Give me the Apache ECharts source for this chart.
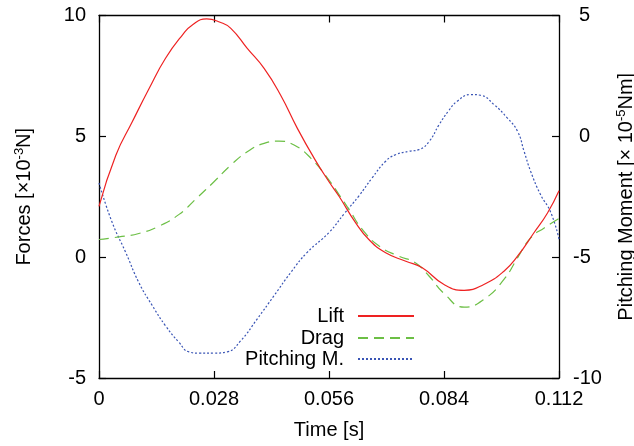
<!DOCTYPE html>
<html>
<head>
<meta charset="utf-8">
<script src="https://cdn.jsdelivr.net/npm/echarts@6/dist/echarts.min.js"></script>
<style>html,body{margin:0;padding:0;background:#fff}#c{width:634px;height:446px}</style>
</head>
<body>
<div id="c"></div>
<script>
// ---- data ----
const xTicks = [0, 0.028, 0.056, 0.084, 0.112];
const leftTicks = [-5, 0, 5, 10];
const rightTicks = [-10, -5, 0, 5];

const liftT = [0, 0.0041, 0.0081, 0.0122, 0.0162, 0.0203, 0.0228, 0.0262, 0.0295, 0.0321, 0.0361, 0.0402, 0.0442, 0.0483, 0.0524, 0.056, 0.0584, 0.0625, 0.0657, 0.0698, 0.0747, 0.0787, 0.084, 0.0889, 0.0937, 0.0986, 0.1019, 0.1059, 0.1092, 0.112];
const liftV = [2.1, 4.22, 5.6, 6.98, 8.23, 9.19, 9.62, 9.86, 9.72, 9.47, 8.64, 7.81, 6.71, 5.33, 4.09, 3.12, 2.53, 1.42, 0.73, 0.18, -0.17, -0.44, -1.13, -1.37, -1.13, -0.58, 0.04, 1.01, 1.83, 2.75];

const dragT = [0, 0.0049, 0.0097, 0.0146, 0.0195, 0.0239, 0.028, 0.0321, 0.0361, 0.0402, 0.0438, 0.0475, 0.0516, 0.056, 0.0584, 0.0609, 0.0641, 0.0682, 0.073, 0.0771, 0.0804, 0.084, 0.0889, 0.0937, 0.0986, 0.1019, 0.1051, 0.1084, 0.112];
const dragV = [0.73, 0.84, 0.98, 1.28, 1.77, 2.46, 3.12, 3.81, 4.36, 4.71, 4.80, 4.64, 4.09, 3.19, 2.6, 1.97, 1.15, 0.46, 0.04, -0.24, -0.79, -1.5, -2.07, -1.75, -0.92, -0.03, 0.80, 1.21, 1.6];

const pitchT = [0, 0.0032, 0.0065, 0.0097, 0.013, 0.0162, 0.0195, 0.0219, 0.0244, 0.028, 0.0312, 0.0345, 0.0385, 0.0426, 0.0467, 0.0507, 0.056, 0.0597, 0.0633, 0.0665, 0.0698, 0.0722, 0.0755, 0.0779, 0.0804, 0.0828, 0.0851, 0.0872, 0.0905, 0.0929, 0.0962, 0.0994, 0.1019, 0.1035, 0.1051, 0.1075, 0.11, 0.112];
const pitchV = [-1.93, -3.56, -4.80, -6.05, -7.01, -7.84, -8.53, -8.92, -8.97, -8.97, -8.92, -8.46, -7.56, -6.6, -5.63, -4.80, -3.98, -3.2, -2.46, -1.72, -1.03, -0.76, -0.62, -0.55, -0.21, 0.48, 1.05, 1.45, 1.73, 1.70, 1.31, 0.76, 0.21, -0.62, -1.45, -2.41, -3.15, -4.25];

const seriesNames = ['Lift', 'Drag', 'Pitching M.'];
// ---- chart ----
const FF = '"Liberation Sans", Arial, Helvetica, sans-serif';
const zip = (t, v) => t.map((x, i) => [x, v[i]]);
const chart = echarts.init(document.getElementById('c'), null, {renderer: 'canvas'});
const axisCommon = {
  axisLine: {show: true, onZero: false, lineStyle: {color: '#000', width: 1.3}},
  axisTick: {show: true, inside: true, length: 7, lineStyle: {color: '#000', width: 1.2}},
  splitLine: {show: false},
  axisLabel: {color: '#000', fontSize: 20, fontFamily: FF}
};
const legendTops = [306, 328, 349];
chart.setOption({
  animation: false,
  backgroundColor: '#fff',
  grid: {left: 99, right: 75, top: 15.5, bottom: 68, containLabel: false, outerBoundsMode: 'none'},
  xAxis: [
    Object.assign({}, axisCommon, {
      type: 'value', min: xTicks[0], max: xTicks[xTicks.length - 1], interval: 0.028,
      name: 'Time [s]', nameLocation: 'middle', nameGap: 42,
      nameTextStyle: {color: '#000', fontSize: 20, fontFamily: FF},
      axisLabel: Object.assign({}, axisCommon.axisLabel, {margin: 11, formatter: v => v === 0 ? '0' : v.toFixed(3)})
    }),
    Object.assign({}, axisCommon, {
      type: 'value', position: 'top', min: xTicks[0], max: xTicks[xTicks.length - 1], interval: 0.028,
      axisLabel: {show: false}
    })
  ],
  yAxis: [
    Object.assign({}, axisCommon, {
      type: 'value', min: leftTicks[0], max: leftTicks[leftTicks.length - 1], interval: 5,
      name: 'Forces [×10{sup|-3}N]', nameLocation: 'middle', nameGap: 64, nameRotate: 90,
      nameTextStyle: {color: '#000', fontSize: 20, fontFamily: FF,
        rich: {sup: {fontSize: 13, fontFamily: FF, color: '#000', verticalAlign: 'top', padding: [0, 0, 9, 0]}}},
      axisLabel: Object.assign({}, axisCommon.axisLabel, {margin: 13})
    }),
    Object.assign({}, axisCommon, {
      type: 'value', position: 'right', min: rightTicks[0], max: rightTicks[rightTicks.length - 1], interval: 5,
      name: 'Pitching Moment [× 10{sup|-5}Nm]', nameLocation: 'middle', nameGap: 56, nameRotate: 90,
      nameTextStyle: {color: '#000', fontSize: 20, fontFamily: FF,
        rich: {sup: {fontSize: 13, fontFamily: FF, color: '#000', verticalAlign: 'top', padding: [0, 0, 9, 0]}}},
      axisLabel: Object.assign({}, axisCommon.axisLabel, {margin: 14,
        formatter: v => v >= 0 ? '{p|' + v + '}' : String(v),
        rich: {p: {fontSize: 20, fontFamily: FF, color: '#000', padding: [0, 0, 0, 6]}}})
    })
  ],
  legend: seriesNames.map((n, i) => ({
    data: [n], orient: 'vertical', align: 'right', right: 219, top: legendTops[i], padding: 0,
    itemWidth: 56, itemHeight: 10, selectedMode: false,
    itemStyle: {opacity: 0},
    textStyle: {color: '#000', fontSize: 20, fontFamily: FF, padding: [0, 9, 0, 0]}
  })),
  series: [
    {name: seriesNames[0], type: 'line', data: zip(liftT, liftV), smooth: 0.5, symbol: 'none',
      lineStyle: {color: '#ee2222', width: 1.2}, itemStyle: {color: '#ee2222'}, z: 3},
    {name: seriesNames[1], type: 'line', data: zip(dragT, dragV), smooth: 0.5, symbol: 'none',
      lineStyle: {color: '#6cbf45', width: 1.2, type: [10, 6]}, itemStyle: {color: '#6cbf45'}, z: 2},
    {name: seriesNames[2], type: 'line', yAxisIndex: 1, data: zip(pitchT, pitchV), smooth: 0.5, symbol: 'none',
      lineStyle: {color: '#3a55b5', width: 1.2, type: [2, 2]}, itemStyle: {color: '#3a55b5'}, z: 1}
  ]
});
</script>
</body>
</html>
